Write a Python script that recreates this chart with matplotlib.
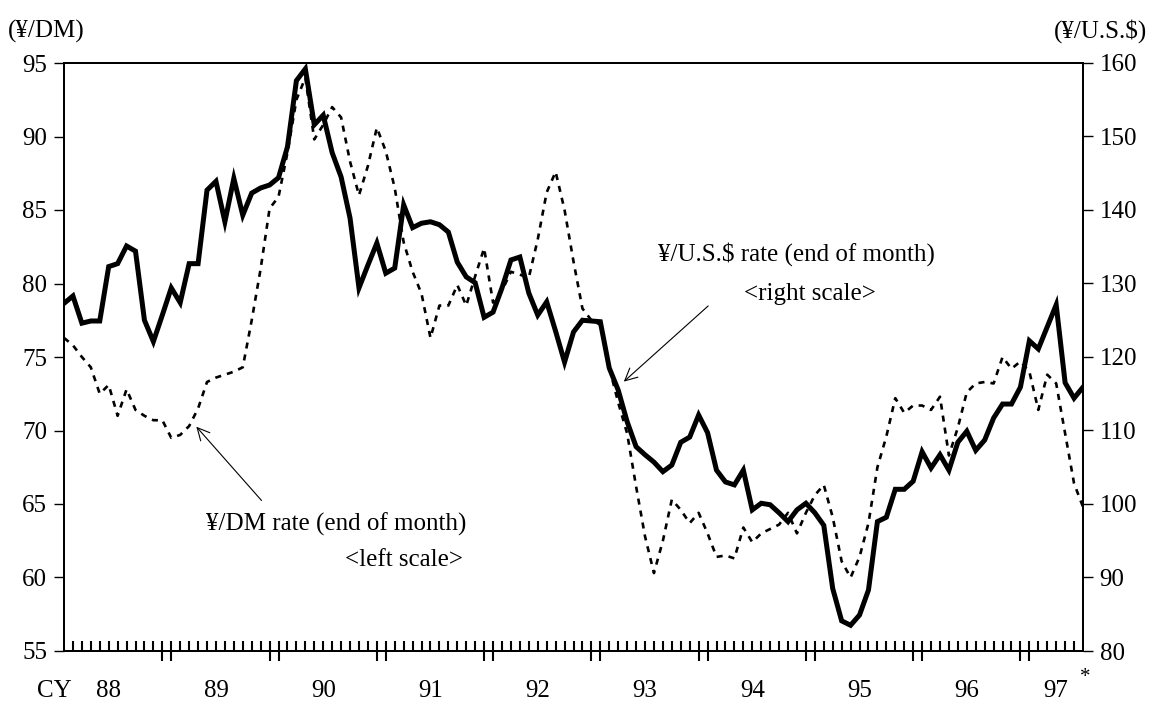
import matplotlib
matplotlib.use("Agg")
import matplotlib.pyplot as plt

plt.rcParams['font.family'] = ['Liberation Serif', 'DejaVu Serif']

# monthly, Jan 1988 .. Jul 1997 (end of month)
usd_yen = [127.3, 128.3, 124.6, 124.9, 124.9, 132.3, 132.7, 135.1, 134.4, 125.0, 122.1, 125.7,
           129.4, 127.4, 132.7, 132.7, 142.7, 143.9, 138.4, 144.3, 139.3, 142.3, 143.0, 143.4,
           144.4, 148.6, 157.6, 159.2, 151.6, 152.9, 147.8, 144.5, 138.9, 129.4, 132.5, 135.5,
           131.4, 132.1, 140.7, 137.6, 138.2, 138.4, 138.0, 137.0, 132.9, 130.9, 130.1, 125.4,
           126.1, 129.4, 133.2, 133.6, 128.7, 125.7, 127.5, 123.5, 119.3, 123.4, 125.0, 124.9,
           124.8, 118.5, 115.5, 111.2, 107.8, 106.7, 105.7, 104.4, 105.3, 108.4, 109.1, 112.1,
           109.7, 104.6, 103.0, 102.6, 104.6, 99.2, 100.1, 99.9, 98.8, 97.6, 99.2, 100.1,
           98.8, 97.1, 88.5, 84.1, 83.5, 84.9, 88.3, 97.6, 98.2, 102.0, 102.0, 103.1,
           107.1, 104.9, 106.7, 104.6, 108.4, 109.9, 107.3, 108.7, 111.7, 113.6, 113.6, 115.9,
           122.2, 121.1, 124.1, 127.1, 116.5, 114.4, 115.9]

dm_yen = [76.3, 75.8, 75.0, 74.3, 72.5, 73.1, 71.0, 72.8, 71.4, 71.0, 70.7, 70.7,
          69.5, 69.7, 70.3, 71.5, 73.3, 73.6, 73.8, 74.0, 74.3, 77.5, 81.0, 85.1,
          85.9, 88.9, 92.5, 94.0, 89.8, 90.8, 92.0, 91.3, 88.3, 86.0, 88.0, 90.6,
          89.0, 86.5, 82.8, 80.8, 79.3, 76.3, 78.5, 78.5, 79.9, 78.5, 80.5, 82.4,
          78.7, 79.5, 80.8, 80.6, 80.4, 83.0, 86.2, 87.6, 85.0, 81.5, 78.3, 77.5,
          77.2, 74.3, 71.9, 69.8, 66.2, 62.8, 60.3, 62.5, 65.3, 64.6, 63.7, 64.4,
          63.0, 61.4, 61.5, 61.3, 63.4, 62.4, 63.0, 63.3, 63.6, 64.4, 63.0, 64.4,
          65.6, 66.3, 64.1, 61.1, 60.0, 61.4, 63.7, 67.5, 69.6, 72.2, 71.2, 71.7,
          71.7, 71.4, 72.3, 68.3, 70.2, 72.6, 73.2, 73.3, 73.2, 75.0, 74.2, 74.7,
          74.0, 71.4, 73.8, 73.2, 69.8, 66.4, 64.8]

year_labels = ['88', '89', '90', '91', '92', '93', '94', '95', '96', '97']
year_label_pos = [5, 17, 29, 41, 53, 65, 77, 89, 101, 111]

left_ticks = [55, 60, 65, 70, 75, 80, 85, 90, 95]
right_ticks = [80, 90, 100, 110, 120, 130, 140, 150, 160]

n = len(usd_yen)
x = list(range(n))

fig = plt.figure(figsize=(11.52, 7.05), dpi=100)
ax = fig.add_axes([64 / 1152, 1 - 651 / 705, (1083 - 64) / 1152, (651 - 63) / 705])
ax2 = ax.twinx()

ax.plot(x, dm_yen, color='black', lw=1.9, linestyle=(0, (2.3, 2.3)))
ax2.plot(x, usd_yen, color='black', lw=3.6, solid_joinstyle='miter')

ax.set_xlim(0, n - 1)
ax.set_ylim(55, 95)
ax2.set_ylim(80, 160)
ax.set_yticks(left_ticks)
ax2.set_yticks(right_ticks)

for a in (ax, ax2):
    for s in a.spines.values():
        s.set_linewidth(1.4)

ax.tick_params(axis='y', direction='out', length=7, width=1, pad=5, labelsize=18)
ax2.tick_params(axis='y', direction='out', length=7, width=1, pad=5, labelsize=18)

# month ticks pointing up, year boundaries doubled and crossing the axis
minor = [i for i in range(1, n - 1)]
major = []
for k in range(9):
    major += [11 + 12 * k, 12 + 12 * k]
ax.set_xticks(major)
ax.set_xticklabels([])
ax.set_xticks(minor, minor=True)
ax.tick_params(axis='x', which='minor', direction='in', length=7, width=1.5)
ax.tick_params(axis='x', which='major', direction='inout', length=14, width=1.5)

tr = ax.get_xaxis_transform()
for pos, lab in zip(year_label_pos, year_labels):
    ax.text(pos, -0.068, lab, transform=tr, ha='center', va='center', fontsize=18)
ax.text(-1.1, -0.068, 'CY', transform=tr, ha='center', va='center', fontsize=18)
ax.text(114.3, -0.045, '*', transform=tr, ha='center', va='center', fontsize=15)

fig.text(8 / 1152, 1 - 31 / 705, '(¥/DM)', ha='left', va='center', fontsize=18)
fig.text(1147 / 1152, 1 - 31 / 705, '(¥/U.S.$)', ha='right', va='center', fontsize=18)

# labels with arrows
ax.text(81.9, 82.0, '¥/U.S.$ rate (end of month)', ha='center', va='center', fontsize=18)
ax.text(83.5, 79.3, '<right scale>', ha='center', va='center', fontsize=18)
ax.annotate('', xy=(62.4, 73.2), xytext=(72.3, 78.6),
            arrowprops=dict(arrowstyle='->', lw=0.8, color='black', mutation_scale=22))

ax.text(30.4, 63.6, '¥/DM rate (end of month)', ha='center', va='center', fontsize=18)
ax.text(38.0, 61.2, '<left scale>', ha='center', va='center', fontsize=18)
ax.annotate('', xy=(14.6, 70.4), xytext=(22.3, 65.1),
            arrowprops=dict(arrowstyle='->', lw=0.8, color='black', mutation_scale=22))

fig.savefig('out.png', dpi=100)
